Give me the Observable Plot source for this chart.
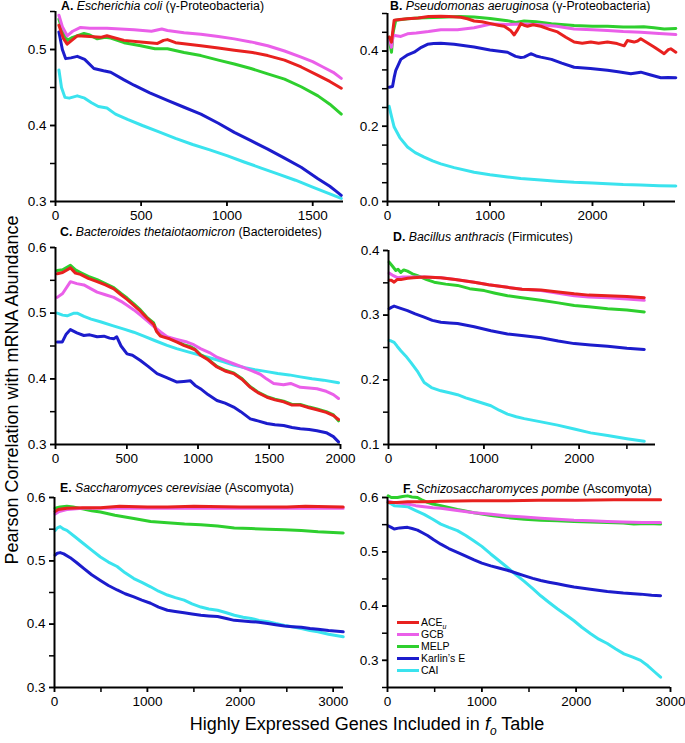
<!DOCTYPE html>
<html><head><meta charset="utf-8">
<script src="https://cdn.jsdelivr.net/npm/d3@7"></script>
<script src="https://cdn.jsdelivr.net/npm/@observablehq/plot@0.6"></script>
<style>
body{margin:0;background:#fff;}
#wrap{position:relative;width:685px;height:743px;font-family:"Liberation Sans",Arial,sans-serif;color:#000;overflow:hidden;background:#fff}
.ttl{position:absolute;font-size:12.3px;white-space:nowrap;line-height:12px}
.p{position:absolute}
.lg{position:absolute;font-size:10.5px;line-height:12px;white-space:nowrap}
.sw{position:absolute;height:3px;width:22px}
</style></head><body><div id="wrap"></div>
<script>
// ---------- series ----------
const seriesNames = ["ACE_u","GCB","MELP","Karlin's E","CAI"];
const seriesColors = ["#e8211f","#ea5fe9","#2ecf2e","#1c1ccc","#3ae3ee"];

// ---------- Panel A: Escherichia coli ----------
const A_ACE = [[20,.532],[45,.515],[68,.507],[100,.513],[127,.518],[200,.517],[263,.516],[300,.518],[400,.512],[497,.510],[595,.508],[630,.512],[653,.513],[700,.509],[848,.505],[950,.502],[1043,.499],[1150,.496],[1238,.492],[1336,.486],[1433,.477],[1531,.466],[1600,.458],[1667,.449]];
const A_GCB = [[20,.545],[40,.530],[68,.518],[100,.524],[146,.529],[200,.528],[300,.528],[458,.526],[560,.524],[620,.527],[653,.525],[750,.522],[848,.520],[950,.517],[1043,.514],[1140,.510],[1238,.505],[1336,.498],[1433,.490],[1500,.484],[1560,.477],[1620,.470],[1667,.462]];
const A_MELP = [[20,.540],[40,.525],[68,.512],[100,.516],[166,.521],[200,.519],[244,.514],[290,.516],[322,.515],[400,.509],[497,.505],[580,.501],[653,.501],[750,.496],[848,.492],[950,.486],[1043,.481],[1140,.475],[1238,.468],[1336,.461],[1433,.451],[1531,.439],[1600,.428],[1667,.415]];
const A_KE = [[20,.523],[40,.500],[59,.488],[90,.489],[127,.491],[170,.487],[224,.475],[280,.472],[322,.470],[400,.460],[458,.453],[550,.443],[653,.433],[750,.424],[848,.415],[950,.403],[1043,.391],[1140,.380],[1238,.369],[1336,.357],[1433,.345],[1531,.330],[1600,.320],[1640,.313],[1667,.308]];
const A_CAI = [[20,.473],[35,.450],[55,.437],[80,.436],[127,.439],[170,.436],[210,.430],[250,.425],[300,.423],[350,.415],[420,.408],[507,.400],[600,.392],[700,.383],[800,.375],[900,.368],[1004,.360],[1100,.352],[1200,.344],[1300,.336],[1400,.328],[1500,.319],[1600,.310],[1667,.304]];

// ---------- Panel B: Pseudomonas aeruginosa ----------
const B_ACE = [[16,.437],[30,.430],[39,.424],[55,.460],[65,.482],[120,.484],[195,.486],[300,.488],[400,.492],[520,.493],[600,.492],[715,.490],[780,.486],[845,.480],[920,.478],[1008,.473],[1080,.469],[1138,.466],[1200,.455],[1236,.443],[1265,.455],[1301,.473],[1340,.468],[1366,.466],[1420,.470],[1496,.466],[1580,.458],[1659,.451],[1740,.437],[1821,.424],[1900,.421],[1984,.424],[2060,.421],[2146,.424],[2240,.420],[2309,.414],[2341,.428],[2406,.424],[2440,.427],[2471,.433],[2530,.423],[2601,.411],[2660,.400],[2699,.393],[2740,.404],[2764,.406],[2813,.397]];
const B_GCB = [[16,.437],[30,.420],[39,.410],[55,.442],[130,.439],[195,.446],[280,.448],[400,.452],[520,.457],[683,.457],[845,.462],[1008,.472],[1171,.471],[1300,.472],[1496,.470],[1650,.466],[1821,.459],[2000,.457],[2146,.455],[2300,.452],[2471,.450],[2650,.447],[2813,.444]];
const B_MELP = [[16,.437],[30,.410],[39,.397],[55,.450],[81,.482],[195,.486],[300,.488],[520,.490],[700,.492],[845,.491],[1000,.487],[1171,.481],[1250,.476],[1333,.480],[1450,.478],[1600,.473],[1821,.468],[2000,.466],[2146,.466],[2300,.464],[2406,.464],[2500,.465],[2600,.462],[2700,.459],[2813,.460]];
const B_KE = [[16,.304],[49,.306],[65,.330],[81,.349],[130,.378],[190,.389],[260,.397],[330,.410],[390,.418],[450,.420],[520,.421],[650,.418],[845,.411],[1000,.403],[1171,.397],[1250,.386],[1300,.383],[1333,.384],[1398,.393],[1450,.387],[1496,.384],[1600,.378],[1700,.368],[1821,.357],[1980,.354],[2146,.349],[2250,.345],[2374,.340],[2471,.344],[2560,.337],[2667,.329],[2740,.330],[2813,.329]];
const B_CAI = [[16,.253],[40,.225],[65,.198],[120,.170],[195,.145],[270,.130],[358,.118],[440,.108],[520,.100],[650,.090],[845,.078],[1000,.071],[1171,.065],[1300,.061],[1496,.057],[1650,.054],[1821,.051],[2000,.049],[2146,.047],[2300,.045],[2471,.044],[2650,.042],[2813,.041]];

// ---------- Panel C: Bacteroides thetaiotaomicron ----------
const C_ACE = [[12,.560],[50,.562],[105,.569],[140,.561],[175,.559],[230,.553],[292,.548],[350,.543],[409,.537],[460,.528],[502,.521],[550,.512],[596,.503],[640,.493],[689,.483],[710,.472],[736,.465],[800,.461],[853,.456],[900,.451],[947,.447],[980,.444],[1017,.436],[1070,.429],[1133,.418],[1190,.412],[1250,.408],[1310,.399],[1367,.387],[1420,.379],[1484,.372],[1540,.368],[1601,.365],[1660,.360],[1718,.360],[1780,.356],[1835,.353],[1900,.349],[1951,.344],[1986,.338]];
const C_GCB = [[12,.524],[50,.530],[105,.548],[150,.545],[199,.543],[250,.537],[292,.532],[350,.528],[409,.524],[460,.518],[502,.512],[550,.505],[596,.497],[640,.489],[689,.480],[740,.471],[783,.464],[850,.460],[923,.456],[970,.452],[1017,.446],[1080,.440],[1133,.433],[1190,.428],[1250,.423],[1300,.419],[1380,.412],[1437,.407],[1480,.400],[1531,.393],[1600,.391],[1650,.393],[1718,.387],[1780,.386],[1835,.385],[1900,.381],[1950,.376],[1986,.370]];
const C_MELP = [[12,.565],[50,.566],[105,.573],[140,.566],[175,.562],[230,.556],[292,.551],[350,.545],[409,.539],[460,.530],[502,.523],[550,.514],[596,.505],[640,.494],[689,.485],[710,.473],[736,.467],[800,.462],[853,.457],[900,.452],[947,.449],[980,.445],[1017,.437],[1070,.430],[1133,.419],[1190,.413],[1250,.409],[1310,.400],[1367,.388],[1420,.380],[1484,.373],[1540,.369],[1601,.366],[1660,.361],[1718,.361],[1780,.357],[1835,.354],[1900,.350],[1951,.345],[1986,.336]];
const C_KE = [[12,.456],[47,.456],[75,.468],[105,.475],[150,.470],[199,.466],[240,.467],[292,.464],[340,.465],[380,.462],[409,.461],[430,.464],[460,.450],[502,.438],[540,.436],[596,.428],[650,.419],[713,.408],[780,.402],[853,.395],[900,.396],[947,.397],[980,.390],[1017,.385],[1070,.376],[1133,.367],[1190,.363],[1250,.357],[1300,.350],[1367,.339],[1420,.336],[1484,.332],[1540,.330],[1601,.329],[1660,.326],[1718,.324],[1780,.323],[1835,.321],[1900,.318],[1950,.312],[1986,.304]];
const C_CAI = [[12,.500],[50,.497],[82,.496],[130,.500],[152,.500],[200,.495],[250,.491],[315,.487],[400,.481],[475,.476],[549,.471],[620,.465],[700,.458],[783,.451],[850,.446],[930,.441],[1017,.436],[1100,.431],[1180,.426],[1250,.421],[1330,.417],[1400,.414],[1484,.411],[1560,.408],[1640,.406],[1718,.403],[1800,.400],[1880,.398],[1986,.394]];

// ---------- Panel D: Bacillus anthracis ----------
const D_ACE = [[7,.354],[30,.354],[59,.351],[90,.355],[129,.355],[200,.357],[260,.358],[374,.359],[549,.358],[700,.355],[899,.351],[1050,.347],[1248,.343],[1400,.340],[1598,.339],[1780,.336],[1948,.333],[2100,.331],[2298,.330],[2500,.329],[2682,.327]];
const D_GCB = [[7,.365],[40,.362],[94,.358],[150,.359],[250,.359],[374,.359],[549,.358],[700,.355],[899,.351],[1050,.347],[1248,.343],[1400,.340],[1598,.338],[1780,.334],[1948,.330],[2100,.328],[2298,.327],[2500,.325],[2682,.323]];
const D_MELP = [[7,.382],[40,.376],[77,.369],[100,.371],[129,.366],[160,.370],[199,.368],[250,.364],[304,.361],[400,.355],[479,.351],[600,.348],[724,.346],[850,.341],[1004,.338],[1120,.334],[1248,.330],[1400,.327],[1598,.323],[1780,.319],[1948,.315],[2100,.313],[2298,.310],[2500,.308],[2682,.305]];
const D_KE = [[7,.310],[30,.312],[59,.314],[120,.311],[199,.307],[280,.302],[374,.297],[460,.292],[549,.289],[640,.288],[724,.287],[899,.282],[1074,.276],[1248,.271],[1420,.268],[1598,.265],[1780,.260],[1948,.256],[2120,.254],[2298,.252],[2500,.249],[2682,.247]];
const D_CAI = [[7,.261],[30,.260],[59,.258],[90,.252],[129,.245],[180,.237],[234,.227],[300,.214],[374,.196],[450,.188],[549,.183],[640,.180],[724,.177],[810,.172],[899,.168],[1074,.160],[1160,.153],[1248,.147],[1340,.143],[1423,.140],[1600,.135],[1773,.130],[1948,.124],[2120,.118],[2298,.114],[2500,.109],[2682,.105]];

// ---------- Panel E: Saccharomyces cerevisiae ----------
const E_ACE = [[7,.578],[40,.581],[133,.583],[300,.584],[494,.584],[700,.586],[1000,.585],[1215,.585],[1500,.586],[2000,.585],[2500,.585],[2700,.586],[3107,.585]];
const E_GCB = [[7,.574],[50,.578],[133,.581],[300,.583],[494,.583],[1000,.583],[2000,.583],[3107,.583]];
const E_MELP = [[7,.583],[60,.585],[133,.586],[200,.585],[300,.582],[400,.579],[494,.577],[650,.572],[854,.567],[1034,.562],[1215,.560],[1400,.558],[1575,.557],[1755,.555],[1935,.552],[2116,.551],[2296,.550],[2476,.549],[2656,.548],[2836,.546],[3107,.544]];
const E_KE = [[7,.509],[30,.512],[61,.513],[100,.511],[169,.505],[240,.497],[314,.488],[400,.478],[494,.469],[580,.461],[674,.454],[760,.448],[854,.443],[940,.438],[1034,.433],[1120,.427],[1215,.422],[1300,.420],[1395,.418],[1480,.416],[1575,.414],[1660,.413],[1755,.412],[1850,.409],[1935,.406],[2030,.405],[2116,.404],[2200,.403],[2296,.401],[2380,.399],[2476,.397],[2560,.396],[2656,.395],[2750,.393],[2836,.392],[2950,.390],[3107,.388]];
const E_CAI = [[7,.548],[30,.552],[61,.554],[100,.550],[133,.548],[220,.538],[314,.527],[400,.517],[494,.506],[580,.498],[674,.491],[760,.481],[854,.472],[940,.466],[1034,.459],[1120,.452],[1215,.446],[1300,.442],[1395,.438],[1480,.432],[1575,.427],[1660,.424],[1755,.422],[1850,.418],[1935,.414],[2030,.411],[2116,.409],[2200,.406],[2296,.404],[2380,.401],[2476,.398],[2560,.396],[2656,.393],[2750,.390],[2836,.388],[2950,.384],[3107,.380]];

// ---------- Panel F: Schizosaccharomyces pombe ----------
const F_ACE = [[7,.591],[100,.591],[212,.592],[400,.592],[565,.593],[900,.594],[1271,.594],[1600,.595],[2000,.595],[2400,.596],[2895,.596]];
const F_GCB = [[7,.593],[60,.591],[120,.590],[212,.588],[300,.585],[388,.583],[480,.581],[565,.580],[740,.576],[918,.572],[1100,.569],[1271,.566],[1450,.564],[1624,.562],[1800,.560],[1977,.558],[2150,.557],[2330,.556],[2500,.555],[2700,.554],[2895,.554]];
const F_MELP = [[7,.603],[40,.600],[106,.600],[160,.602],[212,.603],[260,.601],[318,.600],[370,.595],[424,.591],[480,.588],[565,.585],[740,.578],[918,.572],[1100,.567],[1271,.563],[1450,.560],[1624,.558],[1800,.557],[1977,.556],[2150,.555],[2330,.554],[2500,.553],[2612,.551],[2750,.552],[2895,.551]];
const F_KE = [[7,.548],[40,.545],[71,.542],[130,.544],[212,.545],[260,.543],[318,.540],[370,.535],[424,.530],[490,.522],[565,.514],[650,.506],[741,.499],[830,.492],[918,.485],[1000,.479],[1094,.474],[1180,.470],[1271,.466],[1360,.461],[1447,.456],[1540,.451],[1624,.447],[1710,.444],[1800,.441],[1890,.438],[1977,.435],[2150,.431],[2330,.427],[2500,.424],[2683,.422],[2800,.420],[2895,.419]];
const F_CAI = [[7,.591],[40,.588],[71,.585],[150,.584],[212,.583],[300,.576],[388,.569],[480,.560],[565,.551],[650,.545],[741,.539],[830,.530],[918,.520],[1000,.510],[1094,.496],[1180,.484],[1271,.471],[1360,.458],[1447,.446],[1540,.432],[1624,.419],[1710,.407],[1800,.395],[1890,.384],[1977,.373],[2060,.361],[2154,.349],[2240,.339],[2330,.331],[2420,.321],[2507,.312],[2600,.306],[2683,.300],[2760,.290],[2830,.279],[2895,.269]];

// ---------- tick labels ----------
const A_xTicks = [0,500,1000,1500], A_yTicks = [0.3,0.4,0.5];
const B_xTicks = [0,1000,2000],     B_yTicks = [0,0.2,0.4];
const C_xTicks = [0,500,1000,1500,2000], C_yTicks = [0.3,0.4,0.5,0.6];
const D_xTicks = [0,1000,2000],     D_yTicks = [0.1,0.2,0.3,0.4];
const E_xTicks = [0,1000,2000,3000], E_yTicks = [0.3,0.4,0.5,0.6];
const F_xTicks = [0,1000,2000,3000], F_yTicks = [0.3,0.4,0.5,0.6];

// ---------- panel layout ----------
const panels = [
  {L:"A.", sp:"Escherichia coli", grp:"(γ-Proteobacteria)", box:[55,343,11,201], xd:[0,1680], yd:[0.3,0.55], xt:A_xTicks, yt:A_yTicks, t:[61,0], s:[A_ACE,A_GCB,A_MELP,A_KE,A_CAI]},
  {L:"B.", sp:"Pseudomonas aeruginosa", grp:"(γ-Proteobacteria)", box:[387,675,13,201], xd:[0,2810], yd:[0,0.5], xt:B_xTicks, yt:B_yTicks, t:[390,0], s:[B_ACE,B_GCB,B_MELP,B_KE,B_CAI]},
  {L:"C.", sp:"Bacteroides thetaiotaomicron", grp:"(Bacteroidetes)", box:[55,340,247,444], xd:[0,2000], yd:[0.3,0.6], xt:C_xTicks, yt:C_yTicks, t:[60,226], s:[C_ACE,C_GCB,C_MELP,C_KE,C_CAI]},
  {L:"D.", sp:"Bacillus anthracis", grp:"(Firmicutes)", box:[388,655,250,444], xd:[0,2800], yd:[0.1,0.4], xt:D_xTicks, yt:D_yTicks, t:[393,231], s:[D_ACE,D_GCB,D_MELP,D_KE,D_CAI]},
  {L:"E.", sp:"Saccharomyces cerevisiae", grp:"(Ascomyota)", box:[54,343,497,687], xd:[0,3110], yd:[0.3,0.6], xt:E_xTicks, yt:E_yTicks, t:[60,482], s:[E_ACE,E_GCB,E_MELP,E_KE,E_CAI]},
  {L:"F.", sp:"Schizosaccharomyces pombe", grp:"(Ascomyota)", box:[387,670,497,687], xd:[0,3000], yd:[0.25,0.6], xt:F_xTicks, yt:F_yTicks, t:[403,483], s:[F_ACE,F_GCB,F_MELP,F_KE,F_CAI]}
];

const wrap = document.getElementById("wrap");
const drawOrder = [4,3,2,1,0];
const mL=36, mR=10, mT=6, mB=26;
const font = '"Liberation Sans", Arial, sans-serif';

for (const p of panels) {
  const [x0,x1,y0,y1] = p.box;
  const W = x1-x0+mL+mR, H = y1-y0+mT+mB;
  const minorY = d3.range(Math.round(p.yd[0]*20), Math.round(p.yd[1]*20)+1).map(k=>k/20);
  const minorX = d3.range(0, p.xd[1]+1, 500);
  const lines = drawOrder.map(i => Plot.line(p.s[i].map(([x,y])=>({x,y})), {x:"x", y:"y", stroke:seriesColors[i], strokeWidth:3, strokeLinejoin:"round", strokeLinecap:"round"}));
  const chart = Plot.plot({
    width:W, height:H, marginLeft:mL, marginRight:mR, marginTop:mT, marginBottom:mB,
    x:{domain:p.xd}, y:{domain:p.yd},
    style:{fontFamily:font, fontSize:"13.5px", color:"#000", background:"transparent", overflow:"visible"},
    marks:[
      Plot.axisY(minorY, {tickSize:5, text:null, label:null, strokeWidth:1.5}),
      Plot.axisY(p.yt, {tickSize:5, tickPadding:4, label:null, tickFormat:d3.format(".1f"), strokeWidth:1.5, fontSize:13.5}),
      Plot.axisX(minorX, {tickSize:5, text:null, label:null, strokeWidth:1.5}),
      Plot.axisX(p.xt, {tickSize:5, tickPadding:4, label:null, tickFormat:d=>String(d), strokeWidth:1.5, fontSize:13.5}),
      ...lines,
      Plot.ruleX([p.xd[0]], {stroke:"#000", strokeWidth:2}),
      Plot.ruleY([p.yd[0]], {stroke:"#000", strokeWidth:2})
    ]
  });
  chart.classList.add("p");
  chart.style.left = (x0-mL)+"px";
  chart.style.top = (y0-mT)+"px";
  wrap.appendChild(chart);
  const t = document.createElement("div");
  t.className = "ttl";
  t.style.left = p.t[0]+"px"; t.style.top = p.t[1]+"px";
  t.innerHTML = `<b>${p.L}</b> <i>${p.sp}</i> ${p.grp}`;
  wrap.appendChild(t);
}

// legend (panel F)
const legendLabels = ["ACE<sub style='font-size:7px;font-style:italic'>u</sub>","GCB","MELP","Karlin’s E","CAI"];
legendLabels.forEach((lab,i)=>{
  const yy = 622.5 + i*11.9;
  const sw = document.createElement("div");
  sw.className="sw"; sw.style.left="397px"; sw.style.top=(yy-1.5)+"px"; sw.style.background=seriesColors[i];
  wrap.appendChild(sw);
  const tx = document.createElement("div");
  tx.className="lg"; tx.style.left="421px"; tx.style.top=(yy-6.5)+"px"; tx.innerHTML=lab;
  wrap.appendChild(tx);
});

// axis titles
const yl = document.createElement("div");
yl.style.cssText = "position:absolute;left:12px;top:390px;font-size:18px;white-space:nowrap;transform:translate(-50%,-50%) rotate(-90deg);";
yl.textContent = "Pearson Correlation with mRNA Abundance";
wrap.appendChild(yl);
const xl = document.createElement("div");
xl.style.cssText = "position:absolute;left:367px;top:714px;font-size:18px;line-height:20px;white-space:nowrap;transform:translateX(-50%);";
xl.innerHTML = "Highly Expressed Genes Included in <i>f</i><sub style='font-size:12px;font-style:italic'>o</sub> Table";
wrap.appendChild(xl);
</script>
</body></html>
